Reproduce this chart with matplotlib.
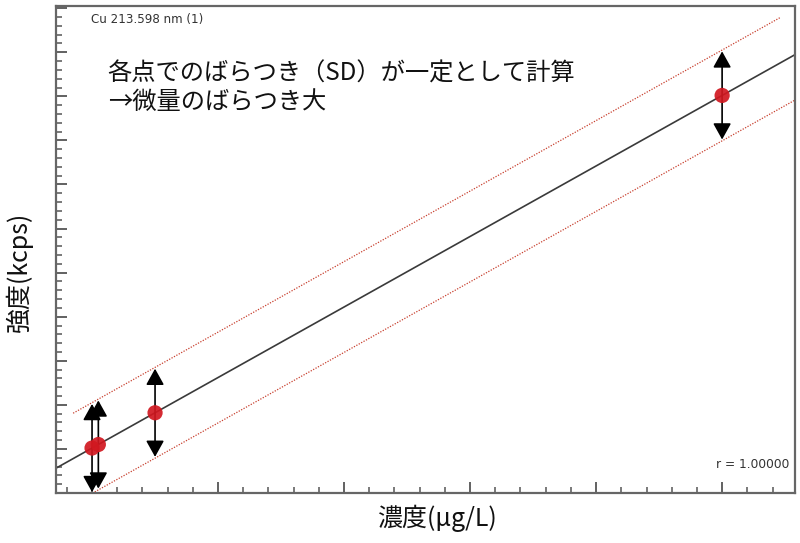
import matplotlib
matplotlib.use("Agg")
import matplotlib.pyplot as plt
from matplotlib.ticker import MultipleLocator
import numpy as np

plt.rcParams['font.family'] = ['Noto Sans CJK JP', 'DejaVu Sans']

# calibration standards (µg/L) and measured intensity (kcps)
conc = [0, 0.5, 5, 50]
intensity = [102, 110, 182, 902]
sd = [100, 100, 100, 100]          # same spread at every point
band = 103                         # half width of the dotted band
intercept = 102
slope = 16
upper_x = [-1.5, 54.6]
lower_x = [-1.5, 55.8]
xlim = (-2.86, 55.8)
ylim = (0, 1105)

fig = plt.figure(figsize=(8, 5.43), dpi=100)
ax = fig.add_axes([0.07, 0.0921, 0.924, 0.8969])

# regression line over the full x range
xs = np.array(xlim)
ax.plot(xs, intercept + slope * xs, color='#3a3a3a', lw=1.2, zorder=2)

# dotted band above and below
ux = np.array(upper_x)
lx = np.array(lower_x)
ax.plot(ux, intercept + slope * ux + band, color='#c8402f', lw=0.9,
        ls=(0, (1, 1.2)), zorder=2)
ax.plot(lx, intercept + slope * lx - band, color='#c8402f', lw=0.9,
        ls=(0, (1, 1.2)), zorder=2)

# arrows showing the spread at each point
for c, y, s in zip(conc, intensity, sd):
    ax.annotate('', xy=(c, y + s), xytext=(c, y - s),
                arrowprops=dict(arrowstyle='<|-|>,head_length=0.45,head_width=0.25',
                                color='black', lw=1.2, mutation_scale=22,
                                shrinkA=0, shrinkB=0),
                zorder=3, annotation_clip=False)

ax.scatter(conc, intensity, s=120, color='#d11820', edgecolors='none',
           alpha=0.92, zorder=4)

ax.set_xlim(*xlim)
ax.set_ylim(*ylim)
ax.xaxis.set_major_locator(MultipleLocator(10))
ax.xaxis.set_minor_locator(MultipleLocator(2))
ax.yaxis.set_major_locator(MultipleLocator(100))
ax.yaxis.set_minor_locator(MultipleLocator(20))
ax.tick_params(which='both', direction='in', colors='#555555',
               labelbottom=False, labelleft=False)
ax.tick_params(which='major', length=8, width=1.3)
ax.tick_params(which='minor', length=4, width=1.1)
for sp in ax.spines.values():
    sp.set_color('#666666')
    sp.set_linewidth(1.6)

ax.text(0.048, 0.986, 'Cu 213.598 nm (1)', transform=ax.transAxes,
        fontsize=8.6, color='#333333', va='top', ha='left',
        family=['DejaVu Sans'])
ax.text(0.992, 0.058, 'r = 1.00000', transform=ax.transAxes,
        fontsize=8.8, color='#333333', va='center', ha='right',
        family=['DejaVu Sans'])

ax.text(0.070, 0.832, '各点でのばらつき（SD）が一定として計算\n→微量のばらつき大',
        transform=ax.transAxes, fontsize=17.5, color='#111111',
        va='center', ha='left', linespacing=1.08)

fig.text(0.024, 0.5, '強度(kcps)', rotation=90, fontsize=18,
         va='center', ha='center', color='#111111')
fig.text(0.546, 0.046, '濃度(μg/L)', fontsize=18,
         va='center', ha='center', color='#111111')

fig.savefig('out.png', dpi=100)
